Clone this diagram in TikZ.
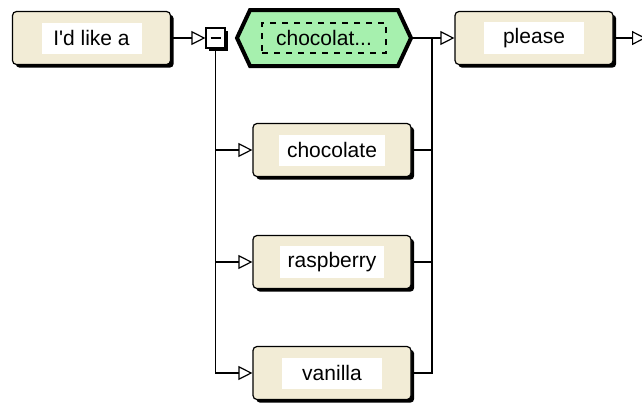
\documentclass[tikz,border=0pt]{standalone}
\usepackage{fontspec}
\setmainfont{Liberation Sans}
\usetikzlibrary{arrows.meta,positioning,shapes.symbols,shadows}
\definecolor{cream}{HTML}{F2ECD6}
\definecolor{mint}{HTML}{A6F0AE}

\begin{document}
\begin{tikzpicture}[x=0.5pt, y=-0.5pt,
  item/.style={draw, rounded corners=2pt, fill=cream, line width=0.6pt, minimum width=79pt, minimum height=26.5pt,
    drop shadow={shadow xshift=1.6pt, shadow yshift=-1.6pt, fill=black, opacity=1}},
  word/.style={fill=white, minimum width=50pt, minimum height=15.5pt, inner xsep=4pt, font=\fontsize{10.5}{12}\selectfont},
  toggle/.style={draw, fill=white, line width=0.6pt, minimum width=9.5pt, minimum height=10pt, inner sep=0pt,
    drop shadow={shadow xshift=1.5pt, shadow yshift=-1.5pt, fill=black, opacity=1}},
  choice/.style={shape=signal, signal to=west and east, signal pointer angle=130, draw, line width=2pt, fill=mint,
    minimum width=87pt, minimum height=28pt,
    drop shadow={shadow xshift=0pt, shadow yshift=-0.8pt, fill=black, opacity=1}},
  pick/.style={draw, dashed, line width=0.8pt, minimum width=62pt, minimum height=15pt, inner xsep=2pt, font=\fontsize{10.5}{12}\selectfont},
  flow/.style={line width=0.6pt},
  tip/.style={-{Triangle[open, length=7pt, width=7pt]}, line width=0.6pt}
]
  \useasboundingbox (0,0) rectangle (642,404);

  % Main row
  \node[item] (like) at (91.5,38) {};
  \node[word] (likeTxt) at (like) {I\textquotesingle d like a};
  \node[toggle] (toggle) at (215.5,38) {\rule[0.2pt]{5pt}{1.2pt}};
  \node[choice] (choice) at (324,38) {};
  \node[pick] (pickTxt) at (choice) {chocolat...};
  \node[item] (please) at (534,38) {};
  \node[word] (pleaseTxt) at (please) {please};
  \coordinate (join) at (432,38);
  \coordinate (out) at (646,38);

  % Alternatives
  \node[item] (choc) at (332,150) {};
  \node[word] (chocTxt) at (choc) {chocolate};
  \node[item] (rasp) at (332,262) {};
  \node[word] (raspTxt) at (rasp) {raspberry};
  \node[item] (van) at (332,373) {};
  \node[word] (vanTxt) at (van) {vanilla};

  % Connectors
  \draw[tip] (like) -- (toggle);
  \draw[flow] (choice) -- (join);
  \draw[tip] (join) -- (please);
  \draw[tip] (please) -- (out);
  \foreach \alt in {choc,rasp,van} {
    \draw[tip] (toggle) |- (\alt);
    \draw[flow] (\alt) -| (join);
  }
\end{tikzpicture}
\end{document}
